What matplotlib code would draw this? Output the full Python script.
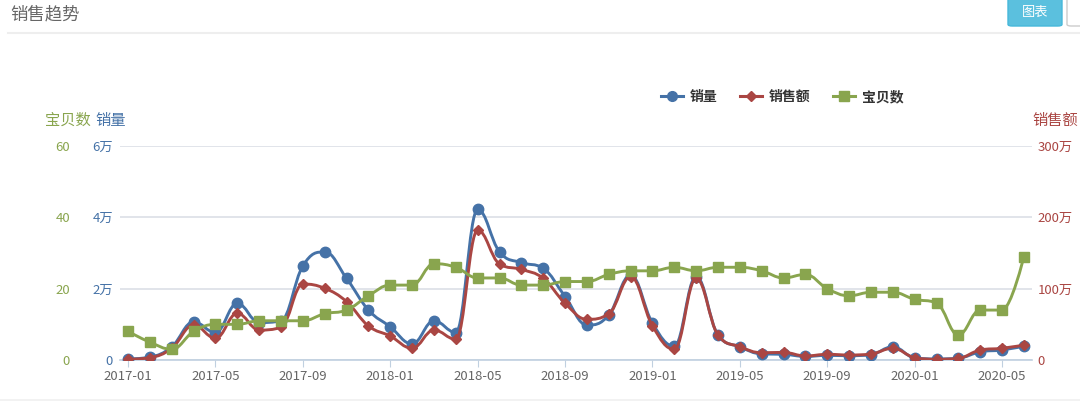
import numpy as np
import pandas as pd
import matplotlib
matplotlib.use('Agg')
import matplotlib.pyplot as plt
from matplotlib.path import Path
from matplotlib.patches import PathPatch, FancyBboxPatch
from matplotlib.lines import Line2D

plt.rcParams['font.family'] = ['Noto Sans CJK SC', 'DejaVu Sans']

# 月份 2017-01 ~ 2020-06
meses = [str(p) for p in pd.period_range('2017-01', '2020-06', freq='M')]

# 销量 (万)
vendas = [0.03, 0.08, 0.37, 1.07, 0.77, 1.59, 1.05, 1.10, 2.64, 3.03,
          2.29, 1.40, 0.93, 0.45, 1.10, 0.77, 4.22, 3.03, 2.73, 2.57,
          1.78, 0.98, 1.26, 2.38, 1.03, 0.39, 2.34, 0.70, 0.37, 0.17,
          0.16, 0.10, 0.13, 0.12, 0.15, 0.37, 0.06, 0.03, 0.05, 0.23,
          0.28, 0.39]
# 销售额 (万)
receita = [1, 3.3, 16.4, 49, 30.4, 65.4, 42, 45.8, 106.5, 100.5,
           81.8, 47.7, 33.6, 16.4, 42, 29, 182, 134.6, 127, 114.5,
           79.5, 57, 64.5, 116.8, 47.7, 15, 114.5, 35, 18.7, 10.2,
           10.7, 5.6, 8, 7, 8.4, 16.4, 3.3, 1, 2.3, 14,
           16.4, 21]
# 宝贝数
itens = [8, 5, 3, 8, 10, 10, 11, 11, 11, 13,
         14, 18, 21, 21, 27, 26, 23, 23, 21, 21,
         22, 22, 24, 25, 25, 26, 25, 26, 26, 25,
         23, 24, 20, 18, 19, 19, 17, 16, 7, 14,
         14, 29]

azul = '#4572A7'
vermelho = '#AA4643'
verde = '#89A54E'
cinza_grade = '#dcdfe6'


def spline(ax, xs, ys, cor):
    # curva suave no estilo highcharts (fator 1.5)
    xs = np.asarray(xs, float)
    ys = np.asarray(ys, float)
    n = len(xs)
    sm, den = 1.5, 2.5
    L = [(xs[i], ys[i]) for i in range(n)]
    R = [(xs[i], ys[i]) for i in range(n)]
    for i in range(1, n - 1):
        lx = (sm * xs[i] + xs[i - 1]) / den
        ly = (sm * ys[i] + ys[i - 1]) / den
        rx = (sm * xs[i] + xs[i + 1]) / den
        ry = (sm * ys[i] + ys[i + 1]) / den
        if rx != lx:
            corr = ((ry - ly) * (rx - xs[i])) / (rx - lx) + ys[i] - ry
            ly += corr
            ry += corr
        if ly > ys[i - 1] and ly > ys[i]:
            ly = max(ys[i - 1], ys[i]); ry = 2 * ys[i] - ly
        elif ly < ys[i - 1] and ly < ys[i]:
            ly = min(ys[i - 1], ys[i]); ry = 2 * ys[i] - ly
        if ry > ys[i + 1] and ry > ys[i]:
            ry = max(ys[i + 1], ys[i]); ly = 2 * ys[i] - ry
        elif ry < ys[i + 1] and ry < ys[i]:
            ry = min(ys[i + 1], ys[i]); ly = 2 * ys[i] - ry
        L[i] = (lx, ly)
        R[i] = (rx, ry)
    verts = [(xs[0], ys[0])]
    codes = [Path.MOVETO]
    for i in range(1, n):
        verts += [R[i - 1], L[i], (xs[i], ys[i])]
        codes += [Path.CURVE4] * 3
    ax.add_patch(PathPatch(Path(verts, codes), fill=False, edgecolor=cor,
                           lw=2.1, capstyle='round', joinstyle='round',
                           zorder=3))


fig = plt.figure(figsize=(10.8, 4.04), dpi=100)

# cabeçalho
fig.text(10 / 1080, 1 - 14 / 404, '销售趋势', fontsize=12.5, color='#666666',
         va='center', ha='left')
fig.add_artist(Line2D([8 / 1080, 1], [1 - 33 / 404] * 2, color='#eeeeee',
                      lw=1.5, transform=fig.transFigure))
fig.add_artist(Line2D([0, 1], [1 - 400 / 404] * 2, color='#f0f0f0',
                      lw=1.2, transform=fig.transFigure))
fig.add_artist(FancyBboxPatch((1008 / 1080, 1 - 26 / 404), 54 / 1080, 30 / 404,
                              boxstyle='round,pad=0,rounding_size=0.004',
                              facecolor='#5bc0de', edgecolor='#46b8da',
                              transform=fig.transFigure))
fig.text(1035 / 1080, 1 - 12 / 404, '图表', fontsize=9.5, color='white',
         ha='center', va='center')
fig.add_artist(FancyBboxPatch((1067 / 1080, 1 - 26 / 404), 30 / 1080, 30 / 404,
                              boxstyle='round,pad=0,rounding_size=0.004',
                              facecolor='white', edgecolor='#cccccc',
                              transform=fig.transFigure))

ax = fig.add_axes([120 / 1080, 1 - 360 / 404, 912 / 1080, 214 / 404])
ax_r = ax.twinx()
ax_g = ax.twinx()

x = np.arange(len(meses))
ax.set_xlim(-0.37, len(meses) - 1 + 0.37)
for a in (ax, ax_r, ax_g):
    a.patch.set_visible(False)
    for s in a.spines.values():
        s.set_visible(False)

ax.set_ylim(0, 6)
ax_r.set_ylim(0, 300)
ax_g.set_ylim(0, 60)

ax.set_yticks([0, 2, 4, 6])
ax.set_yticklabels(['0', '2万', '4万', '6万'])
ax.tick_params(axis='y', length=0, pad=5, labelcolor=azul, labelsize=9.5)
ax.yaxis.grid(True, color=cinza_grade, lw=1.2)
ax.set_axisbelow(True)

ax_r.set_yticks([0, 100, 200, 300])
ax_r.set_yticklabels(['0', '100万', '200万', '300万'])
ax_r.tick_params(axis='y', length=0, pad=4, labelcolor=vermelho, labelsize=9.5)

ax_g.yaxis.set_ticks_position('left')
ax_g.spines['left'].set_position(('outward', 31))
ax_g.set_yticks([0, 20, 40, 60])
ax_g.tick_params(axis='y', length=0, pad=5, labelcolor=verde, labelsize=9.5)

ax.spines['bottom'].set_visible(True)
ax.spines['bottom'].set_color('#c0d0e0')
ax.spines['bottom'].set_linewidth(1.2)
ax.set_xticks(x[::4])
ax.set_xticklabels(meses[::4])
ax.tick_params(axis='x', length=5, color='#c0d0e0', labelcolor='#666666',
               labelsize=9.5, pad=2)

# títulos dos eixos
fig.text(45 / 1080, 1 - 120 / 404, '宝贝数', color=verde, fontsize=11,
         ha='left', va='center')
fig.text(95 / 1080, 1 - 120 / 404, '销量', color=azul, fontsize=11,
         ha='left', va='center')
fig.text(1078 / 1080, 1 - 120 / 404, '销售额', color=vermelho, fontsize=11,
         ha='right', va='center')

# séries
spline(ax, x, vendas, azul)
ax.plot(x, vendas, 'o', color=azul, ms=7.5, zorder=4)
spline(ax_r, x, receita, vermelho)
ax_r.plot(x, receita, 'D', color=vermelho, ms=5.5, zorder=4)
spline(ax_g, x, itens, verde)
ax_g.plot(x, itens, 's', color=verde, ms=7.5, zorder=4)

# legenda
handles = [Line2D([], [], color=azul, lw=2.2, marker='o', ms=7),
           Line2D([], [], color=vermelho, lw=2.2, marker='D', ms=5),
           Line2D([], [], color=verde, lw=2.2, marker='s', ms=7)]
leg = fig.legend(handles, ['销量', '销售额', '宝贝数'], loc='center',
                 bbox_to_anchor=(782 / 1080, 1 - 97 / 404), ncol=3,
                 frameon=False, handlelength=1.6, columnspacing=1.6,
                 handletextpad=0.5, prop={'size': 10, 'weight': 'bold'})
for t in leg.get_texts():
    t.set_color('#333333')

fig.savefig('out.png', dpi=100)
